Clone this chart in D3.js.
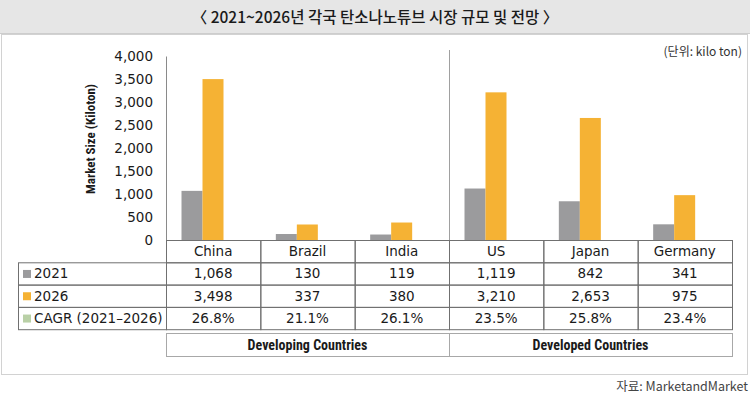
<!DOCTYPE html>
<html>
<head>
<meta charset="utf-8">
<script src="https://cdn.jsdelivr.net/npm/d3@7"></script>
<style>
  body { margin: 0; background: #fff; }
  svg { display: block; }
</style>
</head>
<body>
<div id="chart-container"></div>
<script>
// Chart data
const countries = ["China", "Brazil", "India", "US", "Japan", "Germany"];
const values2021 = [1068, 130, 119, 1119, 842, 341];
const values2026 = [3498, 337, 380, 3210, 2653, 975];
const cagr = ["26.8%", "21.1%", "26.1%", "23.5%", "25.8%", "23.4%"];
const groups = [
  { name: "Developing Countries", from: "China", to: "India" },
  { name: "Developed Countries", from: "US", to: "Germany" }
];
const yTicks = [0, 500, 1000, 1500, 2000, 2500, 3000, 3500, 4000];
const seriesNames = ["2021", "2026"];
const rowLabels = ["2021", "2026", "CAGR (2021\u20132026)"];

const width = 750;
const height = 396;
const plotLeft = 166, plotRight = 732;
const plotTop = 56, plotBottom = 240;
const rowH = 22.3;

const colors = { "2021": "#9b9b9d", "2026": "#f5b234", "CAGR": "#b9d0a6" };
const bodyFont = "'DejaVu Sans', sans-serif";
const narrowBold = "'Liberation Sans Narrow', 'Roboto Condensed', 'Liberation Sans', sans-serif";
const krFont = "'Noto Sans CJK KR', sans-serif";

// Scales
const x = d3.scaleBand().domain(countries).range([plotLeft, plotRight]);
const x1 = d3.scaleBand().domain(seriesNames).range([15.5, 57.5]);
const y = d3.scaleLinear().domain([0, 4000]).range([plotBottom, plotTop]);

const svg = d3.create("svg")
    .attr("width", width)
    .attr("height", height);

// Title band and panel
svg.append("rect").attr("x", 0).attr("y", 0).attr("width", width).attr("height", 34)
    .attr("fill", "#e6e6e6");
svg.append("line").attr("x1", 0).attr("x2", width).attr("y1", 33.5).attr("y2", 33.5)
    .attr("stroke", "#cdcdcd");
svg.append("rect").attr("x", 1.5).attr("y", 34.5).attr("width", 746).attr("height", 340)
    .attr("fill", "#fff").attr("stroke", "#d2d2d2");

svg.append("text")
    .attr("x", 375).attr("y", 23)
    .attr("text-anchor", "middle")
    .attr("font-family", krFont).attr("font-size", 15.5).attr("font-weight", 500)
    .attr("fill", "#1a1a1a")
    .text("\u3008 2021~2026년 각국 탄소나노튜브 시장 규모 및 전망 \u3009");

svg.append("text")
    .attr("x", 742).attr("y", 56)
    .attr("text-anchor", "end")
    .attr("font-family", krFont).attr("font-size", 12)
    .attr("fill", "#333")
    .text("(단위: kilo ton)");

// Divider between groups
svg.append("line")
    .attr("x1", x("US") + 0.5).attr("x2", x("US") + 0.5)
    .attr("y1", 50).attr("y2", plotBottom)
    .attr("stroke", "#a0a0a0");

// Y axis
const yAxis = svg.append("g")
    .attr("transform", `translate(${plotLeft},0)`)
    .call(d3.axisLeft(y).tickValues(yTicks).tickFormat(d3.format(",")).tickSize(0).tickSizeOuter(0).tickPadding(13));
yAxis.select(".domain").attr("stroke", "#8a8a8a");
yAxis.selectAll("text")
    .attr("font-family", bodyFont).attr("font-size", 13.5).attr("fill", "#1a1a1a");

svg.append("text")
    .attr("transform", `translate(95,139) rotate(-90)`)
    .attr("text-anchor", "middle")
    .attr("font-family", narrowBold).attr("font-size", 13).attr("font-weight", "bold")
    .attr("fill", "#1a1a1a")
    .text("Market Size (Kiloton)");

// Bars
const barData = countries.flatMap((c, i) => [
  { country: c, series: "2021", value: values2021[i] },
  { country: c, series: "2026", value: values2026[i] }
]);
svg.append("g")
  .selectAll("rect")
  .data(barData)
  .join("rect")
    .attr("x", d => x(d.country) + x1(d.series))
    .attr("y", d => y(d.value))
    .attr("width", x1.bandwidth())
    .attr("height", d => y(0) - y(d.value))
    .attr("fill", d => colors[d.series]);

// Table
const table = svg.append("g")
    .attr("font-family", bodyFont).attr("font-size", 13.5).attr("fill", "#1a1a1a");
const lineCol = "#707070";
const tableLeft = 18;
const rowTop = i => plotBottom + rowH * (i + 1);

// header cells
table.selectAll(".hdr")
  .data(countries)
  .join("rect")
    .attr("x", d => x(d) + 0.5).attr("y", plotBottom + 0.5)
    .attr("width", x.bandwidth()).attr("height", rowH)
    .attr("fill", "none").attr("stroke", lineCol);
table.selectAll(".hdrText")
  .data(countries)
  .join("text")
    .attr("x", d => x(d) + x.bandwidth() / 2)
    .attr("y", plotBottom + rowH / 2 + 5)
    .attr("text-anchor", "middle")
    .text(d => d);

const rows = [values2021.map(d3.format(",")), values2026.map(d3.format(",")), cagr];
const markerCols = [colors["2021"], colors["2026"], colors.CAGR];

rows.forEach((vals, r) => {
  const top = rowTop(r);
  table.append("rect")
      .attr("x", tableLeft + 0.5).attr("y", top + 0.5)
      .attr("width", plotLeft - tableLeft).attr("height", rowH)
      .attr("fill", "none").attr("stroke", lineCol);
  table.append("rect")
      .attr("x", 23).attr("y", top + rowH / 2 - 3.5)
      .attr("width", 8).attr("height", 8)
      .attr("fill", markerCols[r]);
  table.append("text")
      .attr("x", 34).attr("y", top + rowH / 2 + 5)
      .text(rowLabels[r]);
  table.selectAll(null)
    .data(countries)
    .join("rect")
      .attr("x", d => x(d) + 0.5).attr("y", top + 0.5)
      .attr("width", x.bandwidth()).attr("height", rowH)
      .attr("fill", "none").attr("stroke", lineCol);
  table.selectAll(null)
    .data(countries)
    .join("text")
      .attr("x", d => x(d) + x.bandwidth() / 2)
      .attr("y", top + rowH / 2 + 5)
      .attr("text-anchor", "middle")
      .text((d, i) => vals[i]);
});

// x baseline
svg.append("line")
    .attr("x1", plotLeft).attr("x2", plotRight)
    .attr("y1", plotBottom + 0.5).attr("y2", plotBottom + 0.5)
    .attr("stroke", "#707070");

// Group boxes
const groupTop = 333;
const grp = svg.append("g");
grp.selectAll("rect")
  .data(groups)
  .join("rect")
    .attr("x", d => x(d.from) + 0.5).attr("y", groupTop + 0.5)
    .attr("width", d => x(d.to) + x.bandwidth() - x(d.from)).attr("height", 23)
    .attr("fill", "#fff").attr("stroke", "#a8a8a8");
grp.selectAll("text")
  .data(groups)
  .join("text")
    .attr("x", d => (x(d.from) + x(d.to) + x.bandwidth()) / 2)
    .attr("y", groupTop + 17)
    .attr("text-anchor", "middle")
    .attr("font-family", narrowBold).attr("font-size", 14).attr("font-weight", "bold")
    .attr("fill", "#1a1a1a")
    .text(d => d.name);

// Source
svg.append("text")
    .attr("x", 748).attr("y", 391)
    .attr("text-anchor", "end")
    .attr("font-family", krFont).attr("font-size", 12.5)
    .attr("fill", "#444")
    .text("자료: MarketandMarket");

d3.select("#chart-container").append(() => svg.node());
</script>
</body>
</html>
